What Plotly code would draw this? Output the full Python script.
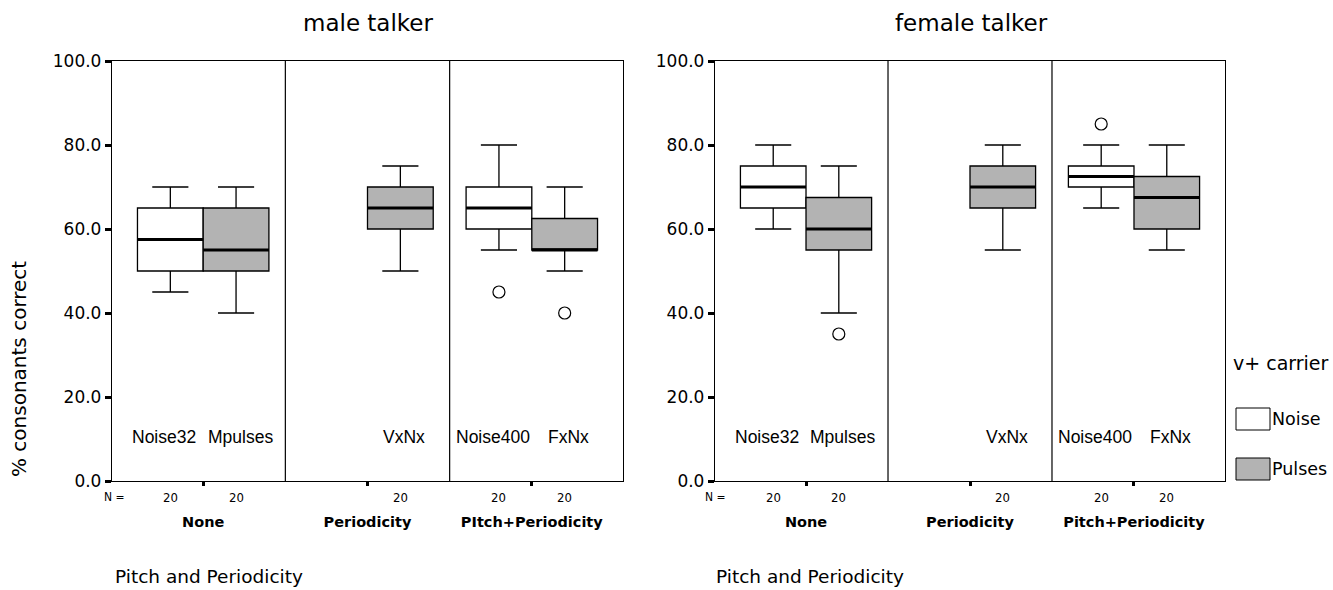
import plotly.graph_objects as go

# ---- data -------------------------------------------------------------
groups_male = ["None", "Periodicity", "PItch+Periodicity"]
groups_female = ["None", "Periodicity", "Pitch+Periodicity"]

# male talker, Noise carrier (groups 0 and 2)
male_noise_grp = [0, 2]
male_noise_names = ["Noise32", "Noise400"]
male_noise_low = [45, 55]
male_noise_q1 = [50, 60]
male_noise_med = [57.5, 65]
male_noise_q3 = [65, 70]
male_noise_high = [70, 80]
male_noise_n = [20, 20]
male_noise_out = [None, 45]

# male talker, Pulses carrier (groups 0, 1, 2)
male_pulse_grp = [0, 1, 2]
male_pulse_names = ["Mpulses", "VxNx", "FxNx"]
male_pulse_low = [40, 50, 50]
male_pulse_q1 = [50, 60, 55]
male_pulse_med = [55, 65, 55]
male_pulse_q3 = [65, 70, 62.5]
male_pulse_high = [70, 75, 70]
male_pulse_n = [20, 20, 20]
male_pulse_out = [None, None, 40]

# female talker, Noise carrier
female_noise_grp = [0, 2]
female_noise_names = ["Noise32", "Noise400"]
female_noise_low = [60, 65]
female_noise_q1 = [65, 70]
female_noise_med = [70, 72.5]
female_noise_q3 = [75, 75]
female_noise_high = [80, 80]
female_noise_n = [20, 20]
female_noise_out = [None, 85]

# female talker, Pulses carrier
female_pulse_grp = [0, 1, 2]
female_pulse_names = ["Mpulses", "VxNx", "FxNx"]
female_pulse_low = [40, 55, 55]
female_pulse_q1 = [55, 65, 60]
female_pulse_med = [60, 70, 67.5]
female_pulse_q3 = [67.5, 75, 72.5]
female_pulse_high = [75, 80, 80]
female_pulse_n = [20, 20, 20]
female_pulse_out = [35, None, None]

y_ticks = [0, 20, 40, 60, 80, 100]

# ---- style ------------------------------------------------------------
FONT = "DejaVu Sans, Arial, sans-serif"
ARIAL = "Liberation Sans, Arial, sans-serif"
NARROW = "DejaVu Sans Condensed, DejaVu Sans, sans-serif"
NOISE_FILL = "#ffffff"
PULSE_FILL = "#b3b3b3"
OFFSET = 0.2      # box offset from group centre
BOXW = 0.4        # box width in axis units
W, H = 1333, 590

Y0_PX, Y1_PX = 481, 61
ydom = [1 - Y0_PX / H, 1 - Y1_PX / H]
xdom_left = [112 / W, 623 / W]
xdom_right = [715 / W, 1225 / W]


def py(px):
    """paper y from a pixel row"""
    return 1 - px / H


fig = go.Figure()


def add_series(xa, ya, grp, names, low, q1, med, q3, high, n, out, fill,
               side, label_shift):
    pos = [g + side * OFFSET for g in grp]
    fig.add_trace(go.Box(
        x=pos, q1=q1, median=med, q3=q3, lowerfence=low, upperfence=high,
        width=BOXW, whiskerwidth=0.55, fillcolor=fill,
        line=dict(color="black", width=1.3), boxpoints=False,
        xaxis=xa, yaxis=ya, showlegend=False, hoverinfo="skip"))
    # thick median bars
    mx, my = [], []
    for p, m in zip(pos, med):
        mx += [p - BOXW / 2, p + BOXW / 2, None]
        my += [m, m, None]
    fig.add_trace(go.Scatter(x=mx, y=my, mode="lines",
                             line=dict(color="black", width=3.2),
                             xaxis=xa, yaxis=ya, showlegend=False,
                             hoverinfo="skip"))
    # outliers
    ox = [p for p, o in zip(pos, out) if o is not None]
    oy = [o for o in out if o is not None]
    if ox:
        fig.add_trace(go.Scatter(x=ox, y=oy, mode="markers",
                                 marker=dict(symbol="circle-open", size=12,
                                             color="black",
                                             line=dict(width=1.2)),
                                 xaxis=xa, yaxis=ya, showlegend=False,
                                 hoverinfo="skip"))
    # condition names inside the plot and N counts under the axis
    xref = "x" if xa == "x" else "x2"
    for p, name, cnt in zip(pos, names, n):
        fig.add_annotation(x=p, y=10.5, xref=xref, yref="y", text=name,
                           showarrow=False, xanchor="center",
                           yanchor="middle", xshift=label_shift,
                           font=dict(family=ARIAL, size=17.5, color="black"))
        fig.add_annotation(x=p, y=py(497), xref=xref, yref="paper",
                           text=str(cnt), showarrow=False, xanchor="center",
                           yanchor="middle",
                           font=dict(family=NARROW, size=13, color="black"))


add_series("x", "y", male_noise_grp, male_noise_names, male_noise_low,
           male_noise_q1, male_noise_med, male_noise_q3, male_noise_high,
           male_noise_n, male_noise_out, NOISE_FILL, -1, -6)
add_series("x", "y", male_pulse_grp, male_pulse_names, male_pulse_low,
           male_pulse_q1, male_pulse_med, male_pulse_q3, male_pulse_high,
           male_pulse_n, male_pulse_out, PULSE_FILL, +1, 4)
add_series("x2", "y2", female_noise_grp, female_noise_names, female_noise_low,
           female_noise_q1, female_noise_med, female_noise_q3,
           female_noise_high, female_noise_n, female_noise_out,
           NOISE_FILL, -1, -6)
add_series("x2", "y2", female_pulse_grp, female_pulse_names, female_pulse_low,
           female_pulse_q1, female_pulse_med, female_pulse_q3,
           female_pulse_high, female_pulse_n, female_pulse_out,
           PULSE_FILL, +1, 4)

xaxis_common = dict(range=[-0.555, 2.555], tickvals=[0, 1, 2],
                    ticks="outside", ticklen=4, tickwidth=2.5,
                    tickcolor="black", showline=True, mirror=True,
                    linecolor="black", linewidth=1.3, showgrid=False,
                    zeroline=False, ticklabelstandoff=23, automargin=False,
                    tickfont=dict(family=FONT, size=14.5, color="black",
                                  weight="bold"),
                    fixedrange=True)
yaxis_common = dict(range=[0, 100], tickvals=y_ticks, tickformat=".1f",
                    ticks="outside", ticklen=6, tickwidth=2.5,
                    tickcolor="black", showline=True, mirror=True,
                    linecolor="black", linewidth=1.3, showgrid=False,
                    zeroline=False, domain=ydom, automargin=False,
                    tickfont=dict(family=FONT, size=17, color="black"),
                    fixedrange=True)

fig.update_layout(
    width=W, height=H,
    margin=dict(l=0, r=0, t=0, b=0, autoexpand=False),
    paper_bgcolor="white", plot_bgcolor="white",
    boxmode="overlay",
    showlegend=False,
    xaxis=dict(xaxis_common, domain=xdom_left, anchor="y",
               ticktext=groups_male),
    yaxis=dict(yaxis_common, anchor="x"),
    xaxis2=dict(xaxis_common, domain=xdom_right, anchor="y2",
                ticktext=groups_female),
    yaxis2=dict(yaxis_common, anchor="x2"),
)

# vertical dividers between the condition groups
for xr, yr in (("x", "y domain"), ("x2", "y2 domain")):
    for xv in (0.5, 1.5):
        fig.add_shape(type="line", xref=xr, yref=yr, x0=xv, x1=xv,
                      y0=0, y1=1, line=dict(color="black", width=1.2))

# panel titles
for xc, txt in ((368, "male talker"), (971, "female talker")):
    fig.add_annotation(x=xc / W, y=py(23), xref="paper", yref="paper",
                       text=txt, showarrow=False, xanchor="center",
                       yanchor="middle",
                       font=dict(family=FONT, size=23, color="black"))

# y-axis title, starting at the axis origin
fig.add_annotation(x=19 / W, y=py(479), xref="paper", yref="paper",
                   text="% consonants correct", textangle=-90,
                   showarrow=False, xanchor="center", yanchor="bottom",
                   font=dict(family=FONT, size=20, color="black"))

# "N =" row labels
for xp in (102, 703):
    fig.add_annotation(x=xp / W, y=py(497), xref="paper", yref="paper",
                       text="N =", showarrow=False, xanchor="left",
                       yanchor="middle",
                       font=dict(family=NARROW, size=12, color="black"))

# x-axis factor titles, left justified at the axis origin
for xp in (113, 714):
    fig.add_annotation(x=xp / W, y=py(589), xref="paper", yref="paper",
                       text="Pitch and Periodicity", showarrow=False,
                       xanchor="left", yanchor="bottom",
                       font=dict(family=FONT, size=18.5, color="black"))

# legend
fig.add_annotation(x=1231 / W, y=py(363), xref="paper", yref="paper",
                   text="v+ carrier", showarrow=False, xanchor="left",
                   yanchor="middle",
                   font=dict(family=FONT, size=19, color="black"))
for (y0, y1, fill, label) in ((408, 430, NOISE_FILL, "Noise"),
                              (458, 480, PULSE_FILL, "Pulses")):
    fig.add_shape(type="rect", xref="paper", yref="paper",
                  x0=1236 / W, x1=1270 / W, y0=py(y1), y1=py(y0),
                  fillcolor=fill, line=dict(color="black", width=1))
    fig.add_annotation(x=1270 / W, y=py((y0 + y1) / 2), xref="paper",
                       yref="paper", text=label, showarrow=False,
                       xanchor="left", yanchor="middle",
                       font=dict(family=FONT, size=17.5, color="black"))

fig.write_html("out.html")
